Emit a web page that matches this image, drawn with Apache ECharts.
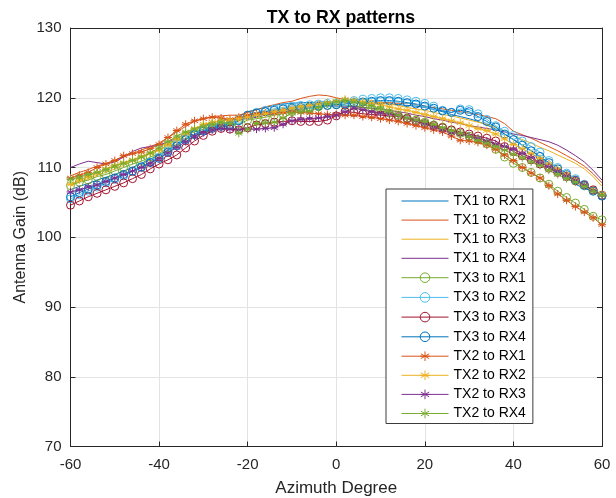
<!DOCTYPE html>
<html>
<head>
<meta charset="utf-8">
<title>TX to RX patterns</title>
<script src="https://cdn.jsdelivr.net/npm/echarts@6/dist/echarts.min.js"></script>
<style>
  html, body { margin: 0; padding: 0; background: #fff; }
  #chart { width: 616px; height: 498px; }
</style>
</head>
<body>
<div id="chart"></div>
<script>
// Azimuth sample points, -60..60 deg in 2 deg steps
const azimuth = [];
for (let a = -60; a <= 60; a += 2) azimuth.push(a);

const xTicks = [-60, -40, -20, 0, 20, 40, 60];
const yTicks = [70, 80, 90, 100, 110, 120, 130];

const seriesNames = [
  'TX1 to RX1', 'TX1 to RX2', 'TX1 to RX3', 'TX1 to RX4',
  'TX3 to RX1', 'TX3 to RX2', 'TX3 to RX3', 'TX3 to RX4',
  'TX2 to RX1', 'TX2 to RX2', 'TX2 to RX3', 'TX2 to RX4'
];

// Antenna gain (dB) per link
const tx1rx1 = [
  106.8, 107.3, 107.7, 108.2, 108.6, 109.0, 109.5, 110.0, 110.6, 111.2,
  111.8, 112.5, 113.3, 114.1, 114.8, 115.3, 115.8, 116.2, 116.5, 117.3,
  118.0, 118.3, 118.6, 118.9, 119.1, 119.2, 119.3, 119.3, 119.4, 119.4,
  119.4, 119.4, 119.3, 119.3, 119.2, 119.2, 119.1, 119.0, 118.9, 118.8,
  118.6, 118.3, 118.0, 117.6, 117.3, 117.0, 116.6, 116.1, 115.5, 114.8,
  114.0, 113.2, 112.4, 111.5, 110.5, 109.5, 108.6, 107.6, 107.0, 106.6,
  106.3
];
const tx1rx2 = [
  108.8, 109.3, 109.7, 110.2, 110.6, 111.0, 111.5, 112.0, 112.5, 113.0,
  113.5, 114.3, 115.1, 115.9, 116.6, 117.0, 117.3, 117.4, 117.5, 117.5,
  117.9, 118.3, 118.7, 119.0, 119.3, 119.5, 119.9, 120.2, 120.4, 120.3,
  120.0, 119.7, 119.4, 119.2, 119.2, 119.3, 119.3, 119.2, 119.2, 119.0,
  118.8, 118.6, 118.4, 118.2, 118.0, 117.8, 117.6, 117.3, 117.0, 116.3,
  115.2, 114.7, 114.2, 113.6, 113.0, 112.4, 111.7, 111.0, 110.2, 109.1,
  107.8
];
const tx1rx3 = [
  107.5, 108.0, 108.4, 108.9, 109.3, 109.8, 110.3, 110.9, 111.4, 112.0,
  112.5, 113.2, 113.9, 114.7, 115.4, 116.0, 116.5, 116.7, 116.8, 117.0,
  117.3, 117.5, 117.8, 118.0, 118.3, 118.6, 118.8, 119.0, 119.2, 119.4,
  119.5, 119.6, 119.7, 119.8, 119.6, 119.3, 119.1, 118.9, 118.6, 118.4,
  118.2, 117.9, 117.6, 117.4, 117.1, 116.8, 116.5, 116.2, 115.7, 115.2,
  114.6, 114.0, 113.5, 112.9, 112.4, 111.8, 111.2, 110.6, 109.8, 108.7,
  107.3
];
const tx1rx4 = [
  110.0, 110.5, 110.9, 110.7, 110.5, 110.8, 111.5, 112.3, 112.8, 113.0,
  113.2, 113.7, 114.2, 114.8, 115.4, 116.0, 116.4, 116.8, 116.9, 116.9,
  117.0, 117.2, 117.5, 117.7, 118.0, 118.2, 118.4, 118.5, 118.7, 118.8,
  118.8, 118.8, 118.7, 118.6, 118.5, 118.4, 118.2, 118.0, 117.8, 117.5,
  117.3, 117.0, 116.8, 116.5, 116.3, 116.0, 115.8, 115.6, 115.4, 115.1,
  114.8, 114.6, 114.3, 114.0, 113.7, 113.2, 112.5, 111.7, 110.8, 109.6,
  108.2
];
const tx3rx1 = [
  107.4, 107.9, 108.2, 108.7, 109.0, 109.5, 110.0, 110.5, 110.9, 111.5,
  112.0, 112.8, 113.7, 114.6, 115.1, 115.5, 116.0, 116.3, 116.1, 116.2,
  116.8, 117.0, 117.2, 117.5, 117.7, 118.0, 118.3, 118.5, 118.7, 118.9,
  119.0, 118.9, 118.8, 118.7, 118.4, 118.2, 117.8, 117.5, 117.1, 116.8,
  116.5, 116.1, 115.8, 115.3, 114.9, 114.5, 114.0, 113.4, 112.6, 111.5,
  110.6, 110.0, 109.3, 108.5, 107.6, 106.6, 105.7, 104.9, 104.0, 103.0,
  102.5
];
const tx3rx2 = [
  105.5, 106.1, 106.6, 107.2, 107.8, 108.3, 108.8, 109.4, 110.0, 110.8,
  111.5, 112.4, 113.3, 114.2, 114.8, 115.3, 115.8, 116.0, 116.2, 116.9,
  117.5, 117.9, 118.2, 118.4, 118.6, 118.8, 118.9, 119.0, 119.1, 119.2,
  119.2, 119.4, 119.6, 119.8, 119.9, 120.0, 120.0, 119.9, 119.7, 119.5,
  119.2, 118.8, 118.2, 117.9, 118.4, 118.3, 117.7, 116.9, 116.0, 115.2,
  114.6, 113.8, 113.0, 112.2, 111.0, 110.0, 109.2, 108.4, 107.6, 106.7,
  106.0
];
const tx3rx3 = [
  104.6, 105.2, 105.8, 106.3, 106.8, 107.3, 107.8, 108.4, 109.0, 109.8,
  110.5, 111.1, 111.8, 112.8, 113.8, 114.6, 115.2, 115.6, 115.5, 115.4,
  115.7, 116.1, 116.3, 116.5, 116.6, 116.7, 116.6, 116.6, 116.6, 116.8,
  117.4, 118.0, 117.9, 117.7, 117.6, 117.5, 117.4, 117.3, 117.0, 116.6,
  116.3, 116.0, 115.7, 115.4, 115.1, 114.8, 114.5, 114.2, 113.8, 113.0,
  112.3, 111.7, 111.1, 110.5, 109.9, 109.3, 108.7, 108.1, 107.5, 106.8,
  106.0
];
const tx3rx4 = [
  105.8, 106.4, 106.9, 107.5, 108.0, 108.5, 109.0, 109.5, 110.1, 110.7,
  111.3, 112.2, 113.1, 114.0, 114.7, 115.2, 115.6, 115.9, 116.0, 116.7,
  117.5, 117.8, 118.0, 118.2, 118.4, 118.5, 118.6, 118.7, 118.8, 118.9,
  119.0, 119.1, 119.3, 119.4, 119.5, 119.6, 119.6, 119.5, 119.3, 119.1,
  118.8, 118.5, 118.1, 117.9, 118.2, 118.0, 117.3, 116.6, 115.8, 114.8,
  114.0, 113.2, 112.4, 111.6, 110.7, 109.8, 109.0, 108.2, 107.4, 106.6,
  105.9
];
const tx2rx1 = [
  108.5, 108.9, 109.3, 110.0, 110.5, 111.0, 111.7, 112.0, 112.2, 112.7,
  113.3, 114.3, 115.3, 116.2, 116.7, 117.0, 117.2, 117.1, 116.9, 117.2,
  117.5, 117.7, 117.8, 117.8, 117.9, 118.0, 117.9, 117.8, 117.7, 117.6,
  117.6, 117.5, 117.5, 117.3, 117.2, 117.0, 116.8, 116.6, 116.3, 116.0,
  115.7, 115.4, 115.1, 114.5, 113.9, 113.8, 113.6, 113.2, 112.6, 111.8,
  111.0, 110.0, 109.2, 108.5, 107.4, 106.2, 105.3, 104.4, 103.6, 102.8,
  101.8
];
const tx2rx2 = [
  107.6, 108.2, 108.7, 109.2, 109.8, 110.3, 110.7, 111.1, 111.6, 112.0,
  112.5, 113.3, 114.1, 114.9, 115.6, 116.2, 116.5, 116.7, 116.8, 117.0,
  117.2, 117.5, 117.7, 118.0, 118.2, 118.5, 118.7, 118.9, 119.1, 119.3,
  119.5, 119.8, 119.6, 119.4, 119.2, 119.0, 118.7, 118.4, 118.2, 117.9,
  117.6, 117.3, 117.0, 116.7, 116.4, 116.0, 115.6, 115.3, 114.8, 114.1,
  113.3, 112.7, 112.0, 111.3, 110.5, 109.8, 109.0, 108.3, 107.5, 106.8,
  106.2
];
const tx2rx3 = [
  106.5, 106.8, 107.2, 107.5, 108.0, 108.5, 109.0, 109.5, 110.0, 110.6,
  111.3, 112.1, 112.9, 113.7, 114.5, 115.0, 115.4, 115.6, 115.5, 115.4,
  115.5, 115.5, 115.6, 115.7, 116.2, 116.7, 116.9, 117.0, 117.1, 117.3,
  117.5, 118.0, 118.5, 118.3, 118.0, 117.8, 117.7, 117.5, 117.1, 116.7,
  116.3, 115.8, 115.4, 115.0, 114.8, 114.5, 114.2, 113.8, 113.4, 113.0,
  112.6, 112.0, 111.4, 110.7, 110.1, 109.5, 108.8, 108.2, 107.5, 106.7,
  106.0
];
const tx2rx4 = [
  108.3, 108.6, 109.0, 109.3, 109.7, 110.2, 110.6, 111.0, 111.5, 112.1,
  112.8, 113.7, 114.5, 115.1, 115.5, 115.9, 116.2, 116.5, 116.3, 114.9,
  115.5, 116.3, 116.4, 116.5, 117.1, 117.8, 118.0, 118.1, 118.6, 119.1,
  119.4, 119.6, 119.4, 119.1, 118.8, 118.5, 118.0, 117.5, 117.1, 116.8,
  116.6, 116.2, 115.7, 115.3, 114.9, 114.4, 113.9, 113.5, 113.0, 112.5,
  111.9, 111.4, 110.8, 110.3, 109.6, 109.0, 108.4, 107.9, 107.3, 106.6,
  106.0
];

const gains = [
  tx1rx1, tx1rx2, tx1rx3, tx1rx4,
  tx3rx1, tx3rx2, tx3rx3, tx3rx4,
  tx2rx1, tx2rx2, tx2rx3, tx2rx4
];

// MATLAB-like colour order and marker per link
const colors = [
  '#0072BD', '#D95319', '#EDB120', '#7E2F8E',
  '#77AC30', '#4DBEEE', '#A2142F', '#0072BD',
  '#D95319', '#EDB120', '#7E2F8E', '#77AC30'
];
const markers = [
  'none', 'none', 'none', 'none',
  'o', 'o', 'o', 'o',
  '*', '*', '*', '*'
];

const ASTERISK = 'path://M0,-10L0,10M-8.66,-5L8.66,5M-8.66,5L8.66,-5M-10,0L10,0';
const textColor = '#262626';
const fontFamily = '"Liberation Sans", Arial, Helvetica, sans-serif';

// Marker style: hollow circles, stroked asterisks, invisible dot for plain lines
function markerStyle(i) {
  const c = colors[i];
  if (markers[i] === 'none') return { color: 'none', borderColor: 'none', borderWidth: 0 };
  if (markers[i] === 'o') return { color: 'none', borderColor: c, borderWidth: 1 };
  return { color: c, borderColor: c, borderWidth: 1 };
}

function buildSeries(i) {
  const c = colors[i];
  const s = {
    name: seriesNames[i],
    type: 'line',
    data: azimuth.map((a, k) => [a, gains[i][k]]),
    lineStyle: { color: c, width: 1 },
    itemStyle: markerStyle(i),
    emphasis: { disabled: true },
    animation: false
  };
  if (markers[i] === 'none') {
    s.symbol = 'circle';
    s.showSymbol = false;
  } else if (markers[i] === 'o') {
    s.symbol = 'circle';
    s.symbolSize = 8;
  } else {
    s.symbol = ASTERISK;
    s.symbolSize = 8;
  }
  return s;
}

const legendData = seriesNames.map((n, i) => ({
  name: n,
  itemStyle: markerStyle(i),
  lineStyle: { color: colors[i], width: 1 }
}));

const tickStyle = { show: true, inside: true, length: 5, lineStyle: { color: textColor, width: 1 } };
const lineAxis = { show: true, onZero: false, lineStyle: { color: textColor, width: 1 } };

const chart = echarts.init(document.getElementById('chart'), null, { renderer: 'canvas' });
chart.setOption({
  animation: false,
  backgroundColor: '#ffffff',
  textStyle: { fontFamily: fontFamily },
  title: {
    text: 'TX to RX patterns',
    left: 336,
    textAlign: 'center',
    top: 4,
    textStyle: { fontSize: 17.7, fontWeight: 'bold', color: '#000', fontFamily: fontFamily }
  },
  grid: {
    left: 70.5, right: 14, top: 28, bottom: 51.5,
    containLabel: false, outerBoundsMode: 'none'
  },
  legend: {
    orient: 'vertical',
    left: 386,
    top: 189,
    itemWidth: 47,
    itemHeight: 12,
    itemGap: 5.1,
    padding: [5, 7, 3, 15],
    backgroundColor: '#fff',
    borderColor: '#3c3c3c',
    borderWidth: 1,
    textStyle: { fontSize: 14, color: '#000', fontFamily: fontFamily },
    selectedMode: false,
    data: legendData
  },
  xAxis: [
    {
      type: 'value', min: xTicks[0], max: xTicks[xTicks.length - 1], interval: 20,
      name: 'Azimuth Degree', nameLocation: 'middle', nameGap: 33, nameMoveOverlap: false,
      nameTextStyle: { fontSize: 17, color: textColor, fontFamily: fontFamily },
      axisLine: lineAxis, axisTick: tickStyle,
      axisLabel: { fontSize: 15, color: textColor, margin: 11, fontFamily: fontFamily },
      splitLine: { show: true, lineStyle: { color: '#e3e3e3', width: 1 } }
    },
    {
      type: 'value', position: 'top', min: xTicks[0], max: xTicks[xTicks.length - 1], interval: 20,
      axisLine: lineAxis, axisTick: tickStyle,
      axisLabel: { show: false }, splitLine: { show: false }
    }
  ],
  yAxis: [
    {
      type: 'value', min: yTicks[0], max: yTicks[yTicks.length - 1], interval: 10,
      name: 'Antenna Gain (dB)', nameLocation: 'middle', nameGap: 42, nameMoveOverlap: false,
      nameTextStyle: { fontSize: 16, color: textColor, fontFamily: fontFamily },
      axisLine: lineAxis, axisTick: tickStyle,
      axisLabel: { fontSize: 15, color: textColor, margin: 9, fontFamily: fontFamily },
      splitLine: { show: true, lineStyle: { color: '#e3e3e3', width: 1 } }
    },
    {
      type: 'value', position: 'right', min: yTicks[0], max: yTicks[yTicks.length - 1], interval: 10,
      axisLine: lineAxis, axisTick: tickStyle,
      axisLabel: { show: false }, splitLine: { show: false }
    }
  ],
  series: seriesNames.map((n, i) => buildSeries(i))
});
</script>
</body>
</html>
